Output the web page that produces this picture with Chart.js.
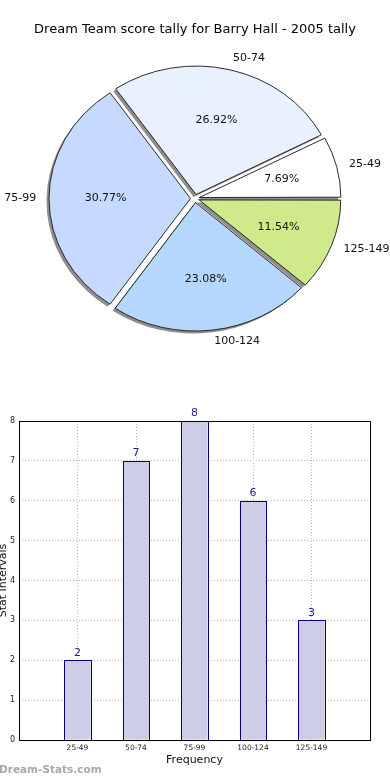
<!DOCTYPE html>
<html>
<head>
<meta charset="utf-8">
<script src="https://cdn.jsdelivr.net/npm/chart.js@4.4.1/dist/chart.umd.min.js"></script>
<style>
  body { margin: 0; background: #fff; }
  #wrap { position: relative; width: 390px; height: 780px; overflow: hidden; }
  canvas { position: absolute; left: 0; }
  #pie { top: 0; }
  #bar { top: 390px; }
  #mark { position: absolute; left: -1px; top: 763px; font: bold 10.5px "DejaVu Sans", sans-serif; color: #a8a8a8; }
</style>
</head>
<body>
<div id="wrap">
  <canvas id="pie" width="390" height="390"></canvas>
  <canvas id="bar" width="390" height="390"></canvas>
  <div id="mark">Dream-Stats.com</div>
</div>
<script>
// score ranges and how many games fell in each
const ranges = ['25-49', '50-74', '75-99', '100-124', '125-149'];
const counts = [2, 7, 8, 6, 3];
const yTicks = [0, 1, 2, 3, 4, 5, 6, 7, 8];

const sliceColors = ['#ffffff', '#e9f1fe', '#c6d9fe', '#b5d7fe', '#cfea8b'];

Chart.defaults.font.family = '"DejaVu Sans", sans-serif';

const total = counts.reduce((a, b) => a + b, 0);
const R = 141.5;
const SHIFT = 4.5;     // explode distance
const SQUASH = 0.908;  // pie is drawn a bit flattened

// matplotlib goes counter-clockwise from 3 o'clock, chart.js clockwise -> reverse
const pieLabels = ranges.slice().reverse();
const pieValues = counts.slice().reverse();
const pieColors = sliceColors.slice().reverse();

const fixOf = v => 1 - Math.sin(Math.min(Math.PI, v / total * 2 * Math.PI));

const pieDecor = {
    id: 'pieDecor',
    beforeDatasetsDraw(chart) {
        const ctx = chart.ctx;
        const arcs = chart.getDatasetMeta(0).data;
        const c = arcs[0];
        // offset in chart.js also grows the radius, undo that
        arcs.forEach((a, i) => { a.outerRadius = R - SHIFT * fixOf(pieValues[i]); });
        ctx.save();
        ctx.translate(c.x, c.y);
        ctx.scale(1, SQUASH);
        ctx.translate(-c.x, -c.y);
        // drop shadows under every wedge
        ctx.fillStyle = '#8e8e8e';
        arcs.forEach(a => {
            const mid = (a.startAngle + a.endAngle) / 2;
            const sx = a.x + Math.cos(mid) * SHIFT - 2.5;
            const sy = a.y + Math.sin(mid) * SHIFT + 2.5 / SQUASH;
            ctx.beginPath();
            ctx.moveTo(sx, sy);
            ctx.arc(sx, sy, R, a.startAngle, a.endAngle);
            ctx.closePath();
            ctx.fill();
        });
    },
    afterDatasetsDraw(chart) {
        const ctx = chart.ctx;
        ctx.restore();
        const arcs = chart.getDatasetMeta(0).data;
        ctx.save();
        ctx.font = '11px "DejaVu Sans"';
        ctx.fillStyle = '#111';
        ctx.textBaseline = 'middle';
        arcs.forEach((a, i) => {
            const mid = (a.startAngle + a.endAngle) / 2;
            const at = k => [a.x + Math.cos(mid) * (SHIFT + k * R),
                             a.y + Math.sin(mid) * (SHIFT + k * R) * SQUASH];
            let p = at(0.6);
            ctx.textAlign = 'center';
            ctx.fillText((pieValues[i] / total * 100).toFixed(2) + '%', p[0], p[1]);
            p = at(1.09);
            ctx.textAlign = Math.cos(mid) > 0 ? 'left' : 'right';
            ctx.fillText(pieLabels[i], p[0], p[1]);
        });
        ctx.restore();
    }
};

new Chart(document.getElementById('pie'), {
    type: 'pie',
    data: {
        labels: pieLabels,
        datasets: [{
            data: pieValues,
            backgroundColor: pieColors,
            borderColor: '#222',
            borderWidth: 1,
            offset: 4 * SHIFT,
            hoverOffset: 0,
            clip: false
        }]
    },
    options: {
        responsive: false,
        animation: false,
        rotation: 90,
        radius: R,
        layout: { padding: { top: 0, bottom: 30.6, left: 0, right: 0 } },
        plugins: {
            legend: { display: false },
            tooltip: { enabled: false },
            title: {
                display: true,
                text: 'Dream Team score tally for Barry Hall - 2005 tally',
                font: { size: 13, weight: 'normal' },
                color: '#000',
                padding: { top: 22, bottom: 0 }
            }
        }
    },
    plugins: [pieDecor]
});

const barDecor = {
    id: 'barDecor',
    afterDraw(chart) {
        const { ctx, chartArea: a } = chart;
        ctx.save();
        // crisp bar outlines
        ctx.strokeStyle = '#000080';
        ctx.lineWidth = 1;
        chart.getDatasetMeta(0).data.forEach(b => {
            const l = Math.round(b.x - b.width / 2), r = Math.round(b.x + b.width / 2);
            const t = Math.round(b.y), btm = Math.round(b.base);
            ctx.strokeRect(l + 0.5, t + 0.5, r - l, btm - t);
        });
        ctx.strokeStyle = '#000';
        ctx.strokeRect(a.left + 0.5, a.top + 0.5, a.right - a.left, a.bottom - a.top);
        ctx.font = '11px "DejaVu Sans"';
        ctx.fillStyle = '#1c1c8c';
        ctx.textAlign = 'center';
        ctx.textBaseline = 'bottom';
        chart.getDatasetMeta(0).data.forEach((b, i) => {
            ctx.fillText(String(counts[i]), b.x, b.y - 2);
        });
        ctx.restore();
    }
};

new Chart(document.getElementById('bar'), {
    type: 'bar',
    data: {
        datasets: [{
            data: counts.map((v, i) => ({ x: i + 1, y: v })),
            backgroundColor: '#cdcde6',
            borderWidth: 0,
            inflateAmount: 0,
            barPercentage: 0.45,
            categoryPercentage: 1
        }]
    },
    options: {
        responsive: false,
        animation: false,
        layout: { padding: { top: 31, right: 20, left: 0, bottom: 0 } },
        plugins: { legend: { display: false }, tooltip: { enabled: false } },
        scales: {
            x: {
                type: 'linear',
                min: 0,
                max: ranges.length + 1,
                offset: false,
                z: 1,
                afterFit: s => { s.height = 40; },
                grid: { color: '#b8b8b8', drawTicks: false, offset: false },
                border: { display: false, dash: [1, 2] },
                ticks: {
                    stepSize: 1,
                    padding: 4,
                    autoSkip: false,
                    maxRotation: 0,
                    font: { size: 7.5 },
                    color: '#222',
                    callback: v => ranges[v - 1] || ''
                },
                title: {
                    display: true,
                    text: 'Frequency',
                    font: { size: 11 },
                    color: '#111',
                    padding: { top: 0, bottom: 13.4 }
                }
            },
            y: {
                min: yTicks[0],
                max: yTicks[yTicks.length - 1],
                z: 1,
                afterFit: s => { s.width = 19; },
                grid: { color: '#b8b8b8', drawTicks: false },
                border: { display: false, dash: [1, 2] },
                ticks: { stepSize: 1, padding: 4, font: { size: 8 }, color: '#222' },
                title: {
                    display: true,
                    text: 'Stat Intervals',
                    font: { size: 11 },
                    color: '#111',
                    padding: { top: -3, bottom: 0 }
                }
            }
        }
    },
    plugins: [barDecor]
});
</script>
</body>
</html>
